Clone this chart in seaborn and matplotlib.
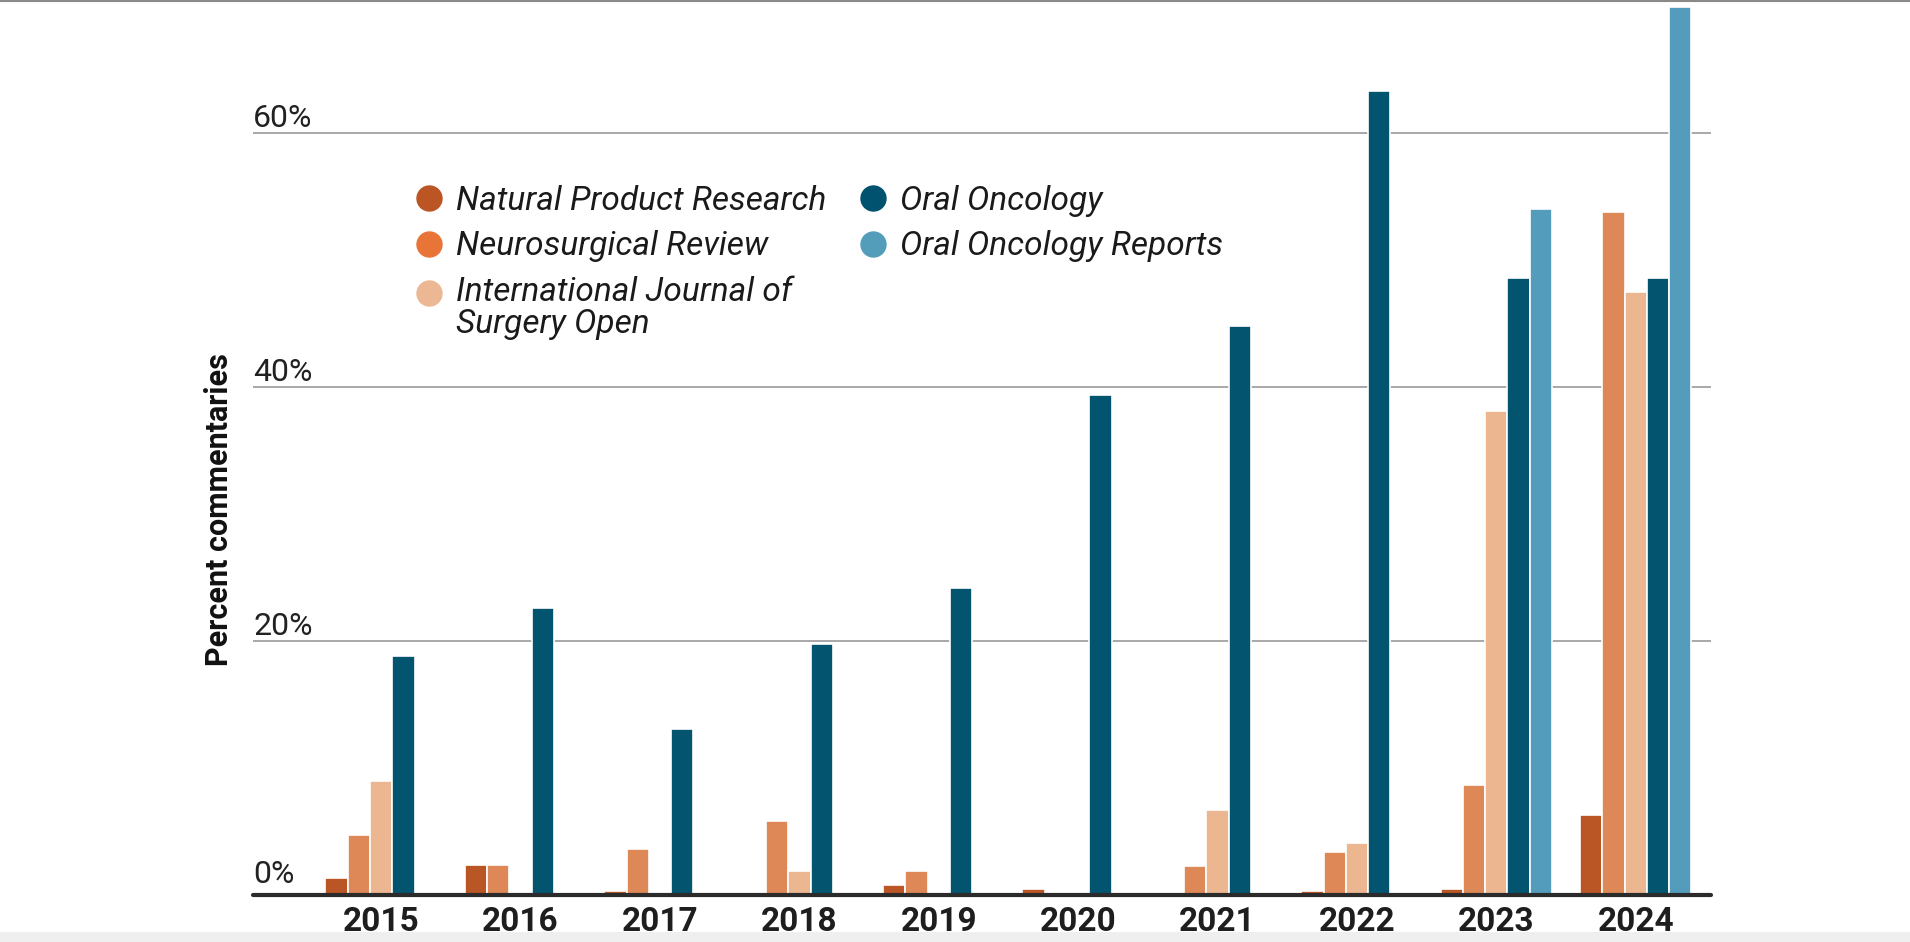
import numpy as np
import pandas as pd
import matplotlib
matplotlib.use("Agg")
import matplotlib.pyplot as plt
import matplotlib.transforms as mtrans
import seaborn as sns
from matplotlib.lines import Line2D
from matplotlib.patches import Rectangle
from matplotlib.legend_handler import HandlerLine2D

# ---------------- data ----------------
years = ["2015", "2016", "2017", "2018", "2019", "2020", "2021", "2022", "2023", "2024"]
journals = ["Natural Product Research", "Neurosurgical Review",
            "International Journal of\nSurgery Open", "Oral Oncology",
            "Oral Oncology Reports"]
natural_product_research = [1.3, 2.4, 0.3, 0.0, 0.8, 0.5, 0.0, 0.3, 0.5, 6.3]
neurosurgical_review = [4.7, 2.4, 3.6, 5.8, 1.9, 0.0, 2.3, 3.4, 8.7, 53.8]
intl_journal_surgery_open = [9.0, 0.0, 0.0, 1.9, 0.0, 0.0, 6.7, 4.1, 38.1, 47.5]
oral_oncology = [18.8, 22.6, 13.1, 19.8, 24.2, 39.4, 44.8, 63.3, 48.6, 48.6]
oral_oncology_reports = [0.0, 0.0, 0.0, 0.0, 0.0, 0.0, 0.0, 0.0, 54.0, 69.9]
y_ticks = [0, 20, 40, 60]
y_tick_labels = ["0%", "20%", "40%", "60%"]
y_title = "Percent commentaries"

series = [natural_product_research, neurosurgical_review,
          intl_journal_surgery_open, oral_oncology, oral_oncology_reports]
bar_colors = ["#ba5526", "#dd8856", "#ecb690", "#02546f", "#539cbb"]
legend_colors = ["#bb5524", "#e97437", "#ecb893", "#00526f", "#539dbb"]

df = pd.DataFrame({
    "year": years * len(journals),
    "journal": np.repeat(journals, len(years)).tolist(),
    "value": sum(series, []),
})

# ---------------- figure ----------------
sns.set_theme(style="white")
plt.rcParams["font.family"] = ["Roboto", "DejaVu Sans"]

W, H = 1910, 942
fig = plt.figure(figsize=(W / 100, H / 100), dpi=100)
ax_left, ax_right = 253 / W, 1711 / W
ax_bottom = (H - 895) / H
ax_top = 1 - 6 / H
ax = fig.add_axes([ax_left, ax_bottom, ax_right - ax_left, ax_top - ax_bottom])

sns.barplot(data=df, x="year", y="value", hue="journal", hue_order=journals,
            order=years, palette=bar_colors, saturation=1, width=0.8,
            edgecolor="white", linewidth=1.2, legend=False, ax=ax)
for p in ax.patches:
    p.set_clip_on(False)

ax.set_xlim(-0.92, 9.54)
ax.set_ylim(0, 70)
for s in ax.spines.values():
    s.set_visible(False)

ax.set_yticks(y_ticks)
ax.set_yticklabels([])
ax.tick_params(axis="y", length=0)
ax.set_axisbelow(True)
ax.yaxis.grid(True, color="#9a9a9a", linewidth=1.2)
ax.axhline(0, color="#2b2b2b", linewidth=3, zorder=5, clip_on=False)

ax.set_xlabel("")
ax.set_ylabel("")
ax.tick_params(axis="x", length=0, pad=8)
for lab in ax.get_xticklabels():
    lab.set_fontsize(24)
    lab.set_fontweight("bold")
    lab.set_color("#1e1e1e")

blend = mtrans.blended_transform_factory(ax.transAxes, ax.transData)
for v, t in zip(y_ticks, y_tick_labels):
    off = 4 if v == 0 else 0
    ax.annotate(t, xy=(0, v), xycoords=blend, xytext=(0, off),
                textcoords="offset points", ha="left", va="bottom",
                fontsize=23, color="#222222")

fig.text(219 / W, 1 - 510 / H, y_title, rotation=90, ha="center", va="center",
         fontsize=22, fontweight="bold", color="#111111")


class RaisedHandler(HandlerLine2D):
    def __init__(self, dy=0.0, **kw):
        super().__init__(**kw)
        self.dy = dy

    def create_artists(self, legend, orig_handle, xdescent, ydescent, width,
                       height, fontsize, trans):
        arts = super().create_artists(legend, orig_handle, xdescent, ydescent,
                                      width, height, fontsize, trans)
        for a in arts:
            a.set_ydata(np.asarray(a.get_ydata(), dtype=float) + self.dy)
        return arts


handles = [Line2D([0], [0], marker="o", linestyle="", markersize=18,
                  markerfacecolor=c, markeredgecolor=c) for c in legend_colors]
leg = ax.legend(handles, journals, ncol=2, loc="upper left",
                bbox_to_anchor=(415 / W, 1 - 185 / H),
                bbox_transform=fig.transFigure, frameon=False,
                borderpad=0, borderaxespad=0, handletextpad=0.38,
                handlelength=0.85, columnspacing=0.98, labelspacing=0.40,
                handler_map={handles[2]: RaisedHandler(dy=11.5)},
                prop={"family": ["Roboto", "DejaVu Sans"], "style": "italic",
                      "size": 24})
for t in leg.get_texts():
    t.set_linespacing(1.0)
    t.set_color("#1a1a1a")

# frame decorations
fig.add_artist(Line2D([0, 1], [1 - 1 / H, 1 - 1 / H], transform=fig.transFigure,
                      color="#8a8a8a", linewidth=1.5))
fig.add_artist(Rectangle((0, 0), 1, 10 / H, transform=fig.transFigure,
                         facecolor="#efefef", edgecolor="none"))

fig.savefig("out.png", dpi=100)
